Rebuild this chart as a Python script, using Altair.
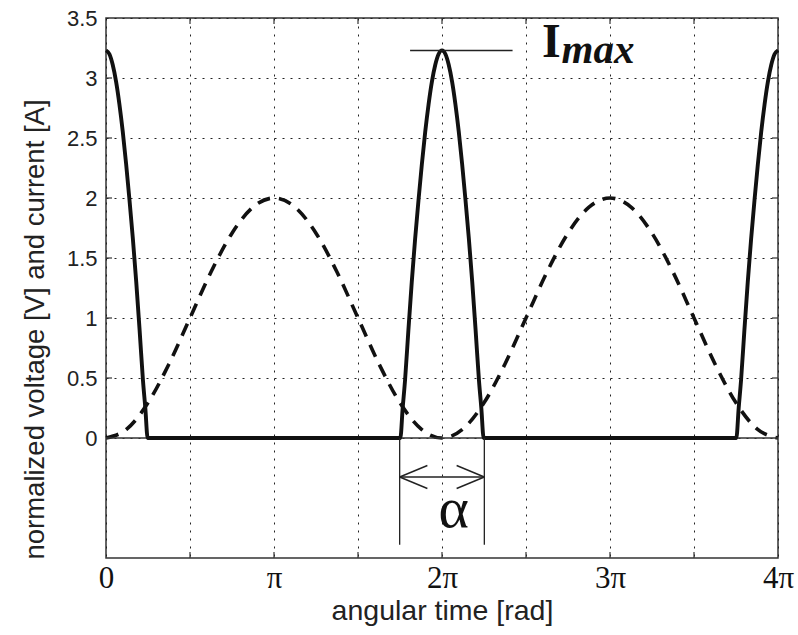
import altair as alt
import pandas as pd

# ---- data (x in units of pi) ----
volt_x = [0, 0.125, 0.25, 0.375, 0.5, 0.625, 0.75, 0.875, 1.0, 1.125, 1.25, 1.375, 1.5, 1.625, 1.75, 1.875, 2.0,
          2.125, 2.25, 2.375, 2.5, 2.625, 2.75, 2.875, 3.0, 3.125, 3.25, 3.375, 3.5, 3.625, 3.75, 3.875, 4.0]
volt_y = [0, 0.076, 0.293, 0.617, 1.0, 1.383, 1.707, 1.924, 2.0, 1.924, 1.707, 1.383, 1.0, 0.617, 0.293, 0.076, 0,
          0.076, 0.293, 0.617, 1.0, 1.383, 1.707, 1.924, 2.0, 1.924, 1.707, 1.383, 1.0, 0.617, 0.293, 0.076, 0]

curr_x = [0, 0.02, 0.04, 0.06, 0.08, 0.10, 0.12, 0.14, 0.16, 0.18, 0.20, 0.22, 0.234, 0.248,
          1.752, 1.766, 1.78, 1.80, 1.82, 1.84, 1.86, 1.88, 1.90, 1.92, 1.94, 1.96, 1.98, 2.0,
          2.02, 2.04, 2.06, 2.08, 2.10, 2.12, 2.14, 2.16, 2.18, 2.20, 2.22, 2.234, 2.248,
          3.752, 3.766, 3.78, 3.80, 3.82, 3.84, 3.86, 3.88, 3.90, 3.92, 3.94, 3.96, 3.98, 4.0]
curr_y = [3.23, 3.20, 3.11, 2.97, 2.78, 2.55, 2.28, 1.98, 1.66, 1.30, 0.90, 0.48, 0.25, 0,
          0, 0.25, 0.48, 0.90, 1.30, 1.66, 1.98, 2.28, 2.55, 2.78, 2.97, 3.11, 3.20, 3.23,
          3.20, 3.11, 2.97, 2.78, 2.55, 2.28, 1.98, 1.66, 1.30, 0.90, 0.48, 0.25, 0,
          0, 0.25, 0.48, 0.90, 1.30, 1.66, 1.98, 2.28, 2.55, 2.78, 2.97, 3.11, 3.20, 3.23]

x_grid_values = [0, 0.5, 1, 1.5, 2, 2.5, 3, 3.5, 4]
x_tick_inner = [0.5, 1, 1.5, 2, 2.5, 3, 3.5]
y_tick_values = [0, 0.5, 1, 1.5, 2, 2.5, 3, 3.5]
y_tick_inner = [0.5, 1, 1.5, 2, 2.5, 3]

i_max = 3.23
imax_line_x = [1.81, 2.42]
alpha_edges = [1.748, 2.252]
alpha_line_bottom = -0.89
arrow_y = -0.325
head_dx = 0.165
head_dy = 0.096

W, H = 672, 540
INK = "#111111"
xs = alt.Scale(domain=[0, 4], nice=False, zero=False)
ys = alt.Scale(domain=[-1, 3.5], nice=False, zero=False)

volt_df = pd.DataFrame({"x": volt_x, "y": volt_y})
curr_df = pd.DataFrame({"x": curr_x, "y": curr_y})

x_axis = alt.Axis(
    values=x_grid_values, grid=True, gridDash=[2, 6], gridColor="#222222", gridWidth=1,
    ticks=False, tickSize=0, domain=False, labelFlush=False, labelOverlap=False,
    labelExpr="datum.value == 0 ? '0' : datum.value == 1 ? 'π' : (datum.value % 1 == 0 ? datum.value + 'π' : '')",
    labelFont="Liberation Serif", labelFontSize=31, labelPadding=5, labelColor=INK,
    title="angular time [rad]", titleFont="Liberation Sans", titleFontSize=28.5,
    titleFontWeight="normal", titleColor="#222222", titleBaseline="alphabetic", titleY=61,
)
y_axis = alt.Axis(
    values=y_tick_values, grid=True, gridDash=[2, 6], gridColor="#222222", gridWidth=1,
    ticks=False, tickSize=0, domain=False, labelOverlap=False, labelFlush=False, format=".1~f",
    labelFont="Liberation Sans", labelFontSize=22, labelPadding=9, labelColor="#222222",
    title="normalized voltage [V] and current [A]", titleFont="Liberation Sans", titleFontSize=27.5,
    titleFontWeight="normal", titleColor="#222222", titleBaseline="alphabetic",
    titleX=-63, titleY=311, titleAngle=270,
)

volt = alt.Chart(volt_df).mark_line(
    color=INK, strokeWidth=3.6, strokeDash=[13, 9], interpolate="monotone"
).encode(
    x=alt.X("x:Q", scale=xs, axis=x_axis),
    y=alt.Y("y:Q", scale=ys, axis=y_axis),
)

zero_line = alt.Chart(pd.DataFrame({"x": [0], "x2": [4], "y": [0]})).mark_rule(
    color="#333333", strokeWidth=1.5
).encode(x=alt.X("x:Q", scale=xs), x2="x2:Q", y=alt.Y("y:Q", scale=ys))

curr = alt.Chart(curr_df).mark_line(
    color=INK, strokeWidth=3.9, strokeJoin="round", interpolate="monotone"
).encode(x=alt.X("x:Q", scale=xs), y=alt.Y("y:Q", scale=ys))

imax_line = alt.Chart(pd.DataFrame({"x": [imax_line_x[0]], "x2": [imax_line_x[1]], "y": [i_max]})).mark_rule(
    color="#222222", strokeWidth=1.5
).encode(x=alt.X("x:Q", scale=xs), x2="x2:Q", y=alt.Y("y:Q", scale=ys))

alpha_lines = alt.Chart(pd.DataFrame({"x": alpha_edges, "y": [0, 0], "y2": [alpha_line_bottom] * 2})).mark_rule(
    color="#222222", strokeWidth=1.3
).encode(x=alt.X("x:Q", scale=xs), y=alt.Y("y:Q", scale=ys), y2="y2:Q")

arrow_df = pd.DataFrame({
    "x": [alpha_edges[0], alpha_edges[0], alpha_edges[0], alpha_edges[1], alpha_edges[1]],
    "x2": [alpha_edges[1], alpha_edges[0] + head_dx, alpha_edges[0] + head_dx,
           alpha_edges[1] - head_dx, alpha_edges[1] - head_dx],
    "y": [arrow_y] * 5,
    "y2": [arrow_y, arrow_y + head_dy, arrow_y - head_dy, arrow_y + head_dy, arrow_y - head_dy],
})
arrow = alt.Chart(arrow_df).mark_rule(color="#222222", strokeWidth=1.4).encode(
    x=alt.X("x:Q", scale=xs), x2="x2:Q", y=alt.Y("y:Q", scale=ys), y2="y2:Q"
)

txt_I = alt.Chart(pd.DataFrame({"x": [2.595], "y": [3.175], "t": ["I"]})).mark_text(
    font="Liberation Serif", fontSize=48, fontWeight="bold", align="left", baseline="alphabetic", color=INK
).encode(x=alt.X("x:Q", scale=xs), y=alt.Y("y:Q", scale=ys), text="t:N")

txt_max = alt.Chart(pd.DataFrame({"x": [2.712], "y": [3.125], "t": ["max"]})).mark_text(
    font="Liberation Serif", fontSize=41, fontWeight="bold", fontStyle="italic", align="left",
    baseline="alphabetic", color=INK
).encode(x=alt.X("x:Q", scale=xs), y=alt.Y("y:Q", scale=ys), text="t:N")

txt_alpha = alt.Chart(pd.DataFrame({"x": [2.07], "y": [-0.745], "t": ["α"]})).mark_text(
    font="Liberation Serif", fontSize=58, align="center", baseline="alphabetic", color=INK
).encode(x=alt.X("x:Q", scale=xs), y=alt.Y("y:Q", scale=ys), text="t:N")

# inward tick marks
tick_bottom = alt.Chart(pd.DataFrame({"x": x_tick_inner})).mark_rule(color="#333333", strokeWidth=1.2).encode(
    x=alt.X("x:Q", scale=xs), y=alt.value(H), y2=alt.value(H - 6))
tick_top = alt.Chart(pd.DataFrame({"x": x_tick_inner})).mark_rule(color="#333333", strokeWidth=1.2).encode(
    x=alt.X("x:Q", scale=xs), y=alt.value(0), y2=alt.value(6))
tick_left = alt.Chart(pd.DataFrame({"y": y_tick_inner})).mark_rule(color="#333333", strokeWidth=1.2).encode(
    y=alt.Y("y:Q", scale=ys), x=alt.value(0), x2=alt.value(6))
tick_right = alt.Chart(pd.DataFrame({"y": y_tick_inner})).mark_rule(color="#333333", strokeWidth=1.2).encode(
    y=alt.Y("y:Q", scale=ys), x=alt.value(W), x2=alt.value(W - 6))

chart = alt.layer(
    volt, zero_line, curr, imax_line, alpha_lines, arrow, txt_I, txt_max, txt_alpha,
    tick_bottom, tick_top, tick_left, tick_right,
).properties(
    width=W, height=H,
    autosize=alt.AutoSizeParams(type="none"),
    padding={"left": 106, "top": 18, "right": 20, "bottom": 77},
    background="white",
).configure_view(stroke="#333333", strokeWidth=1.5)

chart.save("out.html", embed_options={"renderer": "svg", "actions": False})
